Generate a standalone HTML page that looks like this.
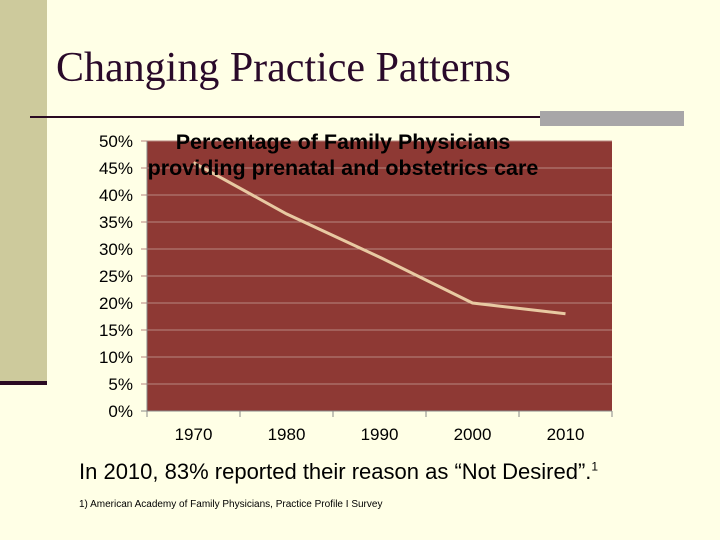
<!DOCTYPE html>
<html><head><meta charset="utf-8"><style>
body{margin:0;width:720px;height:540px;background:#ffffe6;position:relative;overflow:hidden;font-family:"Liberation Sans",sans-serif}
</style></head><body>
<div style="position:absolute;left:0;top:0;width:47px;height:382px;background:#cdca9c"></div>
<div style="position:absolute;left:0;top:381px;width:47px;height:4px;background:#2a0a22"></div>
<div style="position:absolute;left:56px;top:44px;font-family:'Liberation Serif',serif;font-size:42px;color:#2a0a2a;white-space:nowrap">Changing Practice Patterns</div>
<div style="position:absolute;left:30px;top:116px;width:654px;height:2px;background:#2a0a22"></div>
<div style="position:absolute;left:540px;top:111px;width:144px;height:15px;background:#a8a6a8"></div>
<svg width="720" height="540" style="position:absolute;left:0;top:0" id="chart"></svg>
<div style="position:absolute;left:79px;top:459px;font-size:22px;color:#000;white-space:nowrap">In 2010, 83% reported their reason as “Not Desired”.<sup style="font-size:12px">1</sup></div>
<div style="position:absolute;left:79px;top:499px;font-size:10px;color:#000;white-space:nowrap">1) American Academy of Family Physicians, Practice Profile I Survey</div>
<script>
const categories=["1970","1980","1990","2000","2010"];
const values=[46,36.5,28.5,20,18];
const yTicks=[0,5,10,15,20,25,30,35,40,45,50];
const svg=document.getElementById('chart');
const NS='http://www.w3.org/2000/svg';
const L=147,R=612,T=141,B=411,yMax=50;
const y=v=>B-(v/yMax)*(B-T);
const band=(R-L)/categories.length;
const x=i=>L+band*(i+0.5);
function mk(t,a){const e=document.createElementNS(NS,t);for(const k in a)e.setAttribute(k,a[k]);svg.appendChild(e);return e;}
let bg=mk('rect',{x:L,y:T,width:R-L,height:B-T,fill:'#8e3934'});


yTicks.forEach(v=>{
 let g=mk('line',{x1:L-6,x2:R,y1:y(v),y2:y(v),stroke:v===0?'#888':'#b88680','stroke-width':1});
 
 
 let t=mk('text',{x:133,y:y(v)+6,'text-anchor':'end','font-size':17,fill:'#000','font-family':'Liberation Sans'});
 t.textContent=v+'%';
 
 
});
mk('line',{x1:L,x2:L,y1:T,y2:B+6,stroke:'#888'});
categories.forEach((c,i)=>{
 let tk=mk('line',{x1:L+band*(i+1),x2:L+band*(i+1),y1:B,y2:B+6,stroke:'#888'});
 
 
 let t=mk('text',{x:x(i),y:440,'text-anchor':'middle','font-size':17,fill:'#000','font-family':'Liberation Sans'});
 t.textContent=c;
 
 
});
let p=mk('polyline',{points:values.map((v,i)=>x(i)+','+y(v)).join(' '),fill:'none',stroke:'#e8c9a2','stroke-width':3});


['Percentage of Family Physicians','providing prenatal and obstetrics care'].forEach((s,i)=>{
 let t=mk('text',{x:343,y:149+i*26,'text-anchor':'middle','font-size':21.5,'font-weight':'bold',fill:'#000','font-family':'Liberation Sans'});
 t.textContent=s;
 
 
});
</script>
</body></html>
